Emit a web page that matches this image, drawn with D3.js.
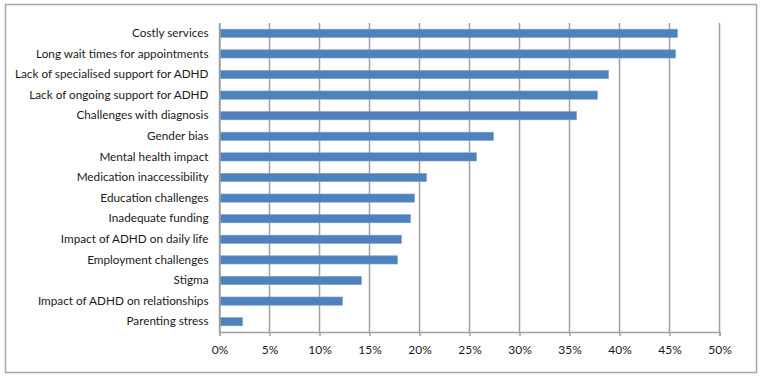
<!DOCTYPE html>
<html>
<head>
<meta charset="utf-8">
<script src="https://cdn.jsdelivr.net/npm/d3@7"></script>
<style>
  body { margin: 0; background: #fff; }
  svg { display: block; font-family: Lato, "Open Sans", sans-serif; }
</style>
</head>
<body>
<div id="chart"></div>
<script>
const categories = [
  "Costly services",
  "Long wait times for appointments",
  "Lack of specialised support for ADHD",
  "Lack of ongoing support for ADHD",
  "Challenges with diagnosis",
  "Gender bias",
  "Mental health impact",
  "Medication inaccessibility",
  "Education challenges",
  "Inadequate funding",
  "Impact of ADHD on daily life",
  "Employment challenges",
  "Stigma",
  "Impact of ADHD on relationships",
  "Parenting stress"
];
const values = [45.8, 45.6, 38.9, 37.8, 35.7, 27.4, 25.7, 20.7, 19.5, 19.1, 18.2, 17.8, 14.2, 12.3, 2.3];
const xTicks = [0, 5, 10, 15, 20, 25, 30, 35, 40, 45, 50];

const width = 763;
const height = 378;
const margin = { top: 23, bottom: 46, left: 219.5, right: 43.5 };

const svg = d3
  .select("#chart")
  .append("svg")
  .attr("width", width)
  .attr("height", height);

// outer frame
svg
  .append("rect")
  .attr("x", 5.5)
  .attr("y", 4.5)
  .attr("width", 751)
  .attr("height", 368)
  .attr("fill", "#fff")
  .attr("stroke", "#a6a6a6")
  .attr("stroke-width", 1.5);

const xScale = d3
  .scaleLinear()
  .domain([0, 50])
  .range([margin.left, width - margin.right]);
const yScale = d3
  .scaleBand()
  .domain(categories)
  .range([margin.top, height - margin.bottom])
  .paddingInner(0.6)
  .paddingOuter(0.3);

// gridlines
svg
  .append("g")
  .selectAll("line")
  .data(xTicks)
  .enter()
  .append("line")
  .attr("x1", (d) => xScale(d))
  .attr("x2", (d) => xScale(d))
  .attr("y1", margin.top)
  .attr("y2", height - margin.bottom)
  .attr("stroke", "#a0a0a0")
  .attr("stroke-width", 1.5);

// bars
svg
  .append("g")
  .selectAll("rect")
  .data(values)
  .enter()
  .append("rect")
  .attr("x", xScale(0))
  .attr("y", (d, i) => yScale(categories[i]))
  .attr("width", (d) => xScale(d) - xScale(0))
  .attr("height", yScale.bandwidth())
  .attr("fill", "#4f81bd")
  .attr("stroke", "#7aa0d0")
  .attr("stroke-width", 0.6);

// x axis
const xAxis = d3
  .axisBottom(xScale)
  .tickValues(xTicks)
  .tickFormat((d) => d + "%")
  .tickSize(4)
  .tickPadding(9);
const gx = svg
  .append("g")
  .attr("transform", `translate(0, ${height - margin.bottom})`)
  .call(xAxis);
gx.select(".domain").attr("stroke", "#a0a0a0").attr("stroke-width", 1.5);
gx.selectAll(".tick line").attr("stroke", "#a0a0a0").attr("stroke-width", 1.5);
gx.selectAll(".tick text")
  .attr("fill", "#1a1a1a")
  .style("font-size", "12px")
  .style("font-family", "Lato, 'Open Sans', sans-serif");

// y axis (labels only)
const yAxis = d3.axisLeft(yScale).tickSize(0).tickPadding(11);
const gy = svg
  .append("g")
  .attr("transform", `translate(${margin.left}, 0)`)
  .call(yAxis);
gy.select(".domain").attr("stroke", "#a0a0a0").attr("stroke-width", 1.5);
gy.selectAll(".tick text")
  .attr("fill", "#1a1a1a")
  .style("font-size", "11.75px")
  .style("font-family", "Lato, 'Open Sans', sans-serif");
</script>
</body>
</html>
